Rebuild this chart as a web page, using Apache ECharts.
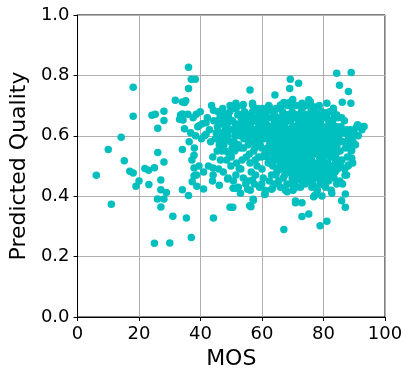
<!DOCTYPE html>
<html>
<head>
<meta charset="utf-8">
<script src="https://cdn.jsdelivr.net/npm/echarts@6/dist/echarts.min.js"></script>
<style>
html,body{margin:0;padding:0;background:#fff;}
#chart{width:412px;height:379px;}
</style>
</head>
<body>
<div id="chart"></div>
<script>
// Axis ticks
const xTicks = [0, 20, 40, 60, 80, 100];
const yTicks = [0.0, 0.2, 0.4, 0.6, 0.8, 1.0];

// Scatter points [MOS, Predicted Quality], grouped by region of the plot
const outliersLow = [
  [6.1,0.469],[10.0,0.555],[11.0,0.373],[14.2,0.595],[15.2,0.517],[17.0,0.483],[18.1,0.477],
  [18.1,0.761],[18.1,0.665],[20.0,0.450],[19.0,0.433],[21.9,0.492],[23.1,0.486],[25.0,0.494],
  [23.2,0.439],[25.0,0.244],[30.0,0.245],[24.2,0.668],[25.3,0.671],[28.1,0.681],[28.1,0.651],
  [26.1,0.625],[26.1,0.545],[28.1,0.513],[27.1,0.454],[27.1,0.421],[28.9,0.412],[26.0,0.391],
  [28.1,0.391],[27.1,0.364],[31.0,0.334],[31.8,0.718],[34.1,0.712],[35.2,0.716],[34.1,0.672],
  [33.2,0.655],[34.8,0.623],[34.1,0.555],[34.1,0.421],[35.4,0.328],[36.1,0.827],[37.0,0.787],
  [38.3,0.787],[36.1,0.757],[37.0,0.263],[36.1,0.402],[33.5,0.669],[35.9,0.671],[38.6,0.671],
  [34.3,0.652],[39.5,0.633],[41.8,0.643],[41.8,0.605],[44.2,0.685],[44.2,0.328],[41.0,0.424],
  [46.1,0.436],[34.8,0.710],[37.9,0.536],[37.9,0.493],[37.9,0.468],[37.3,0.448],[38.8,0.433],
  [44.1,0.493],[44.1,0.470],[48.8,0.457]
];
const outliersHigh = [
  [49.6,0.363],[50.5,0.363],[56.4,0.365],[57.2,0.387],[56.0,0.368],[57.1,0.390],[61.0,0.407],
  [63.4,0.426],[67.1,0.290],[68.2,0.415],[73.0,0.333],[75.2,0.341],[78.9,0.302],[81.1,0.317],
  [87.1,0.363],[85.9,0.385],[87.1,0.407],[70.9,0.378],[77.3,0.404],[79.5,0.401],[82.7,0.410],
  [56.1,0.752],[64.2,0.735],[69.2,0.787],[71.9,0.774],[69.0,0.757],[69.0,0.711],[84.3,0.807],
  [89.0,0.810],[85.2,0.767],[88.1,0.747],[86.1,0.711],[88.9,0.708],[93.2,0.631],[91.1,0.637],
  [90.2,0.603],[87.5,0.608],[81.1,0.708],[83.2,0.691],[84.3,0.669],[88.1,0.503],[89.2,0.526],
  [89.2,0.553],[87.5,0.470],[49.6,0.700],[53.9,0.704],[56.9,0.708],[62.3,0.696],[66.0,0.702],
  [75.7,0.713],[73.0,0.708],[75.2,0.719],[76.8,0.696],[77.9,0.663],[54.2,0.671],[67.1,0.669],
  [71.4,0.669],[50.6,0.426],[55.3,0.423],[51.5,0.426],[59.9,0.441],[60.9,0.406],[63.1,0.423],
  [70.9,0.384],[73.0,0.378],[76.8,0.398],[56.9,0.454],[52.6,0.492],[81.1,0.676],[83.8,0.669],
  [84.3,0.630],[47.2,0.672],[51.5,0.708]
];
const bandA = [
  [36.8,0.61],[37.6,0.66],[38.4,0.60],[39.1,0.63],[39.9,0.68],[40.6,0.64],[41.3,0.60],[42.2,0.66],
  [42.9,0.62],[43.6,0.70],[44.3,0.65],[45.1,0.61],[45.7,0.68],[38.0,0.56],[37.2,0.52],[39.5,0.50],
  [41.0,0.48],[42.6,0.50],[44.0,0.53],[45.4,0.55],[38.7,0.47],[40.3,0.59],[43.3,0.58],[44.8,0.59],
  [46.0,0.64],[36.3,0.58],[45.9,0.49],[43.9,0.45]
];
const bandB = [
  [46.3,0.66],[46.8,0.61],[47.2,0.69],[47.6,0.57],[48.0,0.63],[48.4,0.67],[48.9,0.60],[49.3,0.54],
  [49.7,0.65],[50.1,0.62],[50.5,0.69],[50.9,0.58],[51.3,0.64],[51.7,0.51],[52.1,0.67],[52.5,0.60],
  [52.9,0.56],[53.3,0.63],[53.7,0.70],[54.1,0.59],[54.5,0.65],[54.9,0.53],[46.5,0.52],[47.4,0.48],
  [48.2,0.55],[49.0,0.46],[49.9,0.50],[50.7,0.45],[51.5,0.47],[52.3,0.43],[53.1,0.49],[53.9,0.46],
  [54.7,0.44],[47.9,0.59],[50.3,0.56],[51.9,0.61],[53.5,0.52],[54.3,0.68],[46.1,0.57],[48.7,0.64],
  [52.7,0.64],[49.5,0.68],[51.1,0.55],[54.8,0.61],[47.0,0.64],[53.0,0.41]
];
const bandC = [
  [55.2,0.62],[55.5,0.57],[55.8,0.67],[56.1,0.51],[56.4,0.64],[56.7,0.59],[57.0,0.70],[57.3,0.55],
  [57.6,0.62],[57.9,0.47],[58.2,0.66],[58.5,0.60],[58.8,0.53],[59.1,0.68],[59.4,0.57],[59.7,0.63],
  [60.0,0.49],[60.3,0.65],[60.6,0.59],[60.9,0.54],[61.2,0.61],[61.5,0.68],[61.8,0.56],[62.1,0.63],
  [62.4,0.45],[62.7,0.58],[63.0,0.66],[63.3,0.52],[63.6,0.60],[63.9,0.64],[64.2,0.55],[64.5,0.69],
  [64.8,0.48],[55.4,0.45],[56.2,0.42],[57.5,0.44],[58.4,0.50],[59.2,0.43],[60.4,0.46],[61.0,0.42],
  [62.0,0.51],[63.1,0.47],[64.0,0.44],[55.9,0.54],[57.1,0.60],[58.9,0.64],[60.7,0.67],[62.6,0.62],
  [64.4,0.58],[56.8,0.66],[59.9,0.56],[61.6,0.53],[63.7,0.68],[58.0,0.57],[60.1,0.61],[62.9,0.55],
  [64.6,0.62],[55.7,0.60],[57.8,0.52],[59.5,0.60],[61.4,0.64],[63.4,0.57],[58.6,0.69],[62.2,0.70],
  [56.5,0.48]
];
const bandD = [
  [65.1,0.60],[65.3,0.54],[65.6,0.66],[65.9,0.57],[66.2,0.62],[66.4,0.49],[66.7,0.68],[67.0,0.58],
  [67.2,0.53],[67.5,0.64],[67.8,0.60],[68.1,0.56],[68.3,0.70],[68.6,0.62],[68.9,0.51],[69.1,0.59],
  [69.4,0.65],[69.7,0.55],[70.0,0.61],[70.2,0.47],[70.5,0.63],[70.8,0.57],[71.0,0.67],[71.3,0.53],
  [71.6,0.60],[71.9,0.64],[72.1,0.56],[72.4,0.50],[72.7,0.62],[73.0,0.58],[73.2,0.66],[73.5,0.54],
  [73.8,0.60],[74.1,0.63],[74.3,0.49],[74.6,0.57],[74.9,0.65],
  [65.4,0.45],[66.0,0.43],[66.9,0.46],[67.6,0.42],[68.4,0.48],[69.2,0.44],[70.1,0.42],[70.9,0.45],
  [71.7,0.49],[72.5,0.43],[73.3,0.47],[74.0,0.44],[74.8,0.52],
  [65.7,0.52],[66.5,0.55],[67.3,0.61],[68.0,0.65],[68.8,0.57],[69.5,0.53],[70.3,0.59],[71.1,0.55],
  [71.8,0.52],[72.6,0.59],[73.4,0.62],[74.2,0.55],[65.2,0.63],[66.1,0.59],[66.8,0.64],[67.7,0.56],
  [68.5,0.54],[69.3,0.62],[70.6,0.55],[71.4,0.62],[72.2,0.60],[72.9,0.53],[73.7,0.57],[74.5,0.61],
  [66.3,0.70],[67.9,0.67],[69.8,0.68],[71.2,0.70],[72.8,0.68],[74.4,0.67],[65.8,0.50],[67.4,0.50],
  [69.0,0.48],[70.7,0.51],[72.3,0.47],[73.9,0.51],[70.4,0.66],[68.2,0.59],[71.5,0.58],[73.6,0.65],
  [69.6,0.58],[66.6,0.61],[72.0,0.65],[74.7,0.59],[67.1,0.71],[70.0,0.72]
];
const bandE = [
  [75.2,0.61],[75.5,0.56],[75.8,0.64],[76.1,0.52],[76.4,0.59],[76.7,0.67],[77.0,0.62],[77.3,0.55],
  [77.6,0.60],[77.9,0.48],[78.2,0.65],[78.5,0.57],[78.8,0.62],[79.1,0.53],[79.4,0.68],[79.7,0.59],
  [80.0,0.56],[80.3,0.63],[80.6,0.50],[80.9,0.60],[81.2,0.66],[81.5,0.57],[81.8,0.54],[82.1,0.62],
  [82.4,0.47],[82.7,0.59],[83.0,0.64],[83.3,0.55],[83.6,0.61],[83.9,0.51],[84.2,0.58],[84.5,0.66],
  [84.8,0.55],
  [75.4,0.45],[76.2,0.43],[77.1,0.46],[78.0,0.42],[78.9,0.44],[79.8,0.47],[80.7,0.43],[81.6,0.45],
  [82.5,0.42],[83.4,0.46],[84.3,0.44],[76.0,0.49],[77.8,0.51],[79.5,0.50],[81.0,0.48],[82.9,0.50],
  [84.6,0.49],
  [75.7,0.58],[76.5,0.62],[77.4,0.58],[78.3,0.60],[79.2,0.57],[80.1,0.61],[81.1,0.59],[81.9,0.63],
  [82.8,0.56],[83.7,0.59],[84.4,0.62],[75.9,0.68],[77.2,0.69],[78.6,0.70],[80.4,0.66],[82.0,0.68],
  [83.5,0.66],[76.9,0.54],[78.7,0.53],[80.5,0.54],[82.2,0.53],[84.0,0.53],[79.0,0.64],[81.4,0.51],
  [83.1,0.60],[77.5,0.64],[80.2,0.58],[75.0,0.55]
];
const bandF = [
  [85.1,0.60],[85.4,0.55],[85.7,0.63],[86.0,0.52],[86.3,0.58],[86.6,0.61],[86.9,0.49],[87.2,0.56],
  [87.5,0.62],[87.8,0.53],[88.1,0.59],[88.4,0.57],[88.7,0.62],[89.0,0.55],[89.3,0.60],[89.6,0.58],
  [90.0,0.62],[90.4,0.57],[90.8,0.63],[91.3,0.60],[91.8,0.63],[92.5,0.62],[85.3,0.45],[86.2,0.44],
  [87.0,0.47],[85.9,0.66],[86.8,0.65],[85.6,0.50],[88.0,0.50],[89.5,0.51]
];
const coreLeft = [
  [45.5,0.63],[46.6,0.59],[47.8,0.66],[48.6,0.62],[49.8,0.58],[50.4,0.65],[51.2,0.60],[52.0,0.63],
  [52.8,0.67],[53.6,0.61],[54.4,0.63],[55.1,0.66],[55.9,0.63],[56.6,0.61],[57.4,0.65],[58.1,0.62],
  [58.7,0.58],[59.6,0.66],[60.5,0.63],[61.3,0.66],[62.3,0.60],[46.9,0.55],[48.5,0.52],[50.0,0.53],
  [52.4,0.57],[54.0,0.56],[56.0,0.58],[57.7,0.56],[59.8,0.53],[61.7,0.59],[49.2,0.66],[51.6,0.69],
  [53.2,0.66],[56.9,0.68],[60.2,0.69]
];
const coreRight = [
  [62.5,0.57],[63.2,0.62],[63.8,0.54],[64.3,0.60],[64.9,0.65],[65.5,0.58],[66.0,0.61],[66.6,0.57],
  [67.2,0.63],[67.7,0.59],[68.3,0.61],[68.8,0.55],[69.3,0.57],[69.9,0.63],[70.5,0.60],[71.0,0.58],
  [71.6,0.56],[72.1,0.62],[72.7,0.55],[73.2,0.60],[73.8,0.63],[74.3,0.58],[74.9,0.61],[75.4,0.59],
  [76.0,0.62],[76.6,0.57],[77.1,0.60],[77.7,0.56],[78.2,0.62],[78.8,0.58],[79.3,0.61],[79.9,0.55],
  [80.4,0.60],[81.0,0.62],[81.5,0.60],[82.1,0.57],[82.6,0.61],[83.2,0.58],[83.8,0.62],[84.4,0.57],
  [85.0,0.58],[85.5,0.61],
  [63.5,0.50],[64.7,0.52],[66.3,0.52],[67.9,0.54],[69.4,0.50],[70.8,0.53],[72.2,0.52],[73.7,0.49],
  [75.3,0.52],[76.8,0.50],[78.4,0.51],[79.9,0.52],[81.3,0.54],[82.9,0.53],[84.1,0.51],
  [64.1,0.67],[65.0,0.69],[66.9,0.66],[68.6,0.67],[69.5,0.70],[71.5,0.66],[73.1,0.69],[74.6,0.70],
  [76.3,0.66],[77.8,0.67],[79.6,0.66],[81.7,0.65],[83.3,0.68],
  [67.4,0.47],[69.8,0.46],[72.9,0.45],[75.6,0.47],[78.1,0.46],[80.8,0.46],[83.8,0.48],[71.3,0.48],
  [76.5,0.44],[79.4,0.44]
];
const coreLow = [
  [64.5,0.47],[65.6,0.49],[66.7,0.51],[67.8,0.48],[68.7,0.52],[69.7,0.49],[70.6,0.46],[71.9,0.50],
  [72.8,0.49],[73.5,0.51],[74.4,0.47],[75.1,0.49],[75.9,0.46],[76.7,0.48],[77.6,0.49],[78.5,0.48],
  [79.3,0.46],[80.2,0.49],[81.2,0.46],[82.3,0.49],[83.0,0.47],[68.1,0.44],[71.0,0.43],[74.6,0.45],
  [77.4,0.43],[80.0,0.44],[65.3,0.56],[67.0,0.55],[68.9,0.53],[70.2,0.54],[71.7,0.54],[73.3,0.53],
  [74.8,0.54],[76.2,0.55],[77.9,0.54],[79.6,0.55],[81.6,0.56],[83.5,0.55],[69.9,0.51],[72.5,0.57],
  [75.8,0.51],[78.9,0.49]
];

const points = [].concat(outliersLow, outliersHigh, bandA, bandB, bandC, bandD, bandE, bandF,
  coreLeft, coreRight, coreLow);

const chart = echarts.init(document.getElementById('chart'), null, {renderer: 'canvas'});
const font = 'DejaVu Sans';
chart.setOption({
  animation: false,
  backgroundColor: '#ffffff',
  grid: {
    left: 75, right: 27, top: 15, bottom: 62,
    show: true, borderColor: '#000', borderWidth: 1, backgroundColor: 'transparent'
  },
  xAxis: {
    type: 'value', min: xTicks[0], max: xTicks[xTicks.length - 1], interval: 20,
    name: 'MOS', nameLocation: 'middle', nameGap: 30,
    nameTextStyle: {fontFamily: font, fontSize: 22, color: '#000'},
    axisLine: {show: true, lineStyle: {color: '#000', width: 1}},
    axisTick: {show: true, inside: false, length: 4, lineStyle: {color: '#000'}},
    axisLabel: {fontFamily: font, fontSize: 18, color: '#000', margin: 8},
    splitLine: {show: true, lineStyle: {color: '#b0b0b0', width: 1}}
  },
  yAxis: {
    type: 'value', min: yTicks[0], max: yTicks[yTicks.length - 1], interval: 0.2,
    name: 'Predicted Quality', nameLocation: 'middle', nameGap: 40,
    nameTextStyle: {fontFamily: font, fontSize: 22, color: '#000'},
    axisLine: {show: true, lineStyle: {color: '#000', width: 1}},
    axisTick: {show: true, inside: false, length: 4, lineStyle: {color: '#000'}},
    axisLabel: {fontFamily: font, fontSize: 18, color: '#000', margin: 8,
      formatter: v => v.toFixed(1)},
    splitLine: {show: true, lineStyle: {color: '#b0b0b0', width: 1}}
  },
  series: [{
    type: 'scatter',
    data: points,
    symbol: 'circle',
    symbolSize: 7.5,
    itemStyle: {color: '#00bfbf', opacity: 1},
    emphasis: {disabled: true}
  }]
});
</script>
</body>
</html>
